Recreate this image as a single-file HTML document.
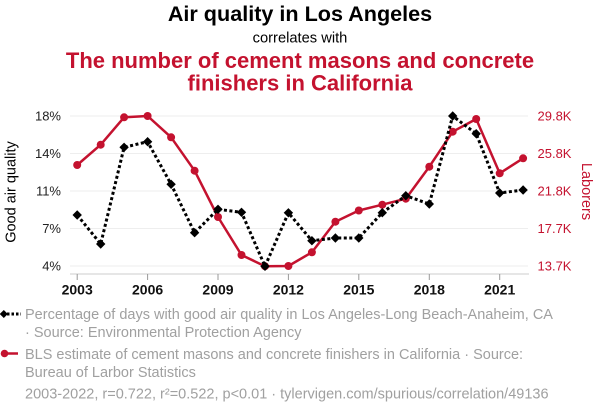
<!DOCTYPE html>
<html>
<head>
<meta charset="utf-8">
<style>
  html, body { margin: 0; padding: 0; background: #ffffff; }
  svg { display: block; }
  text { font-family: "Liberation Sans", Arial, sans-serif; }
</style>
</head>
<body>
<svg width="600" height="414" viewBox="0 0 600 414" xmlns="http://www.w3.org/2000/svg">
  <rect width="600" height="414" fill="#ffffff"/>

  <!-- Titles -->
  <text x="300" y="21" text-anchor="middle" font-size="21.6" font-weight="bold" fill="#000">Air quality in Los Angeles</text>
  <text x="300" y="42.5" text-anchor="middle" font-size="14.7" fill="#000">correlates with</text>
  <text x="300" y="68" text-anchor="middle" font-size="22" font-weight="bold" fill="#c4122f">The number of cement masons and concrete</text>
  <text x="300" y="90.5" text-anchor="middle" font-size="22" font-weight="bold" fill="#c4122f">finishers in California</text>

  <!-- Grid lines -->
  <g stroke="#eeeeee" stroke-width="1">
    <line x1="70" y1="116" x2="528" y2="116"/>
    <line x1="70" y1="153.5" x2="528" y2="153.5"/>
    <line x1="70" y1="191" x2="528" y2="191"/>
    <line x1="70" y1="228.5" x2="528" y2="228.5"/>
    <line x1="70" y1="266" x2="528" y2="266"/>
  </g>

  <!-- X axis -->
  <line x1="70" y1="274" x2="529" y2="274" stroke="#cccccc" stroke-width="1"/>
  <g stroke="#999999" stroke-width="1">
    <line x1="77.2" y1="274" x2="77.2" y2="280"/>
    <line x1="147.6" y1="274" x2="147.6" y2="280"/>
    <line x1="218" y1="274" x2="218" y2="280"/>
    <line x1="288.4" y1="274" x2="288.4" y2="280"/>
    <line x1="358.8" y1="274" x2="358.8" y2="280"/>
    <line x1="429.3" y1="274" x2="429.3" y2="280"/>
    <line x1="499.7" y1="274" x2="499.7" y2="280"/>
  </g>
  <g font-size="14" font-weight="bold" fill="#111" text-anchor="middle">
    <text x="77.2" y="294.5">2003</text>
    <text x="147.6" y="294.5">2006</text>
    <text x="218" y="294.5">2009</text>
    <text x="288.4" y="294.5">2012</text>
    <text x="358.8" y="294.5">2015</text>
    <text x="429.3" y="294.5">2018</text>
    <text x="499.7" y="294.5">2021</text>
  </g>

  <!-- Left axis labels -->
  <g font-size="13" fill="#222" text-anchor="end">
    <text x="61" y="120.5">18%</text>
    <text x="61" y="158">14%</text>
    <text x="61" y="195.5">11%</text>
    <text x="61" y="233">7%</text>
    <text x="61" y="270.5">4%</text>
  </g>
  <text transform="translate(15.5,192) rotate(-90)" text-anchor="middle" font-size="14.5" fill="#000">Good air quality</text>

  <!-- Right axis labels -->
  <g font-size="13" fill="#c4122f" text-anchor="start">
    <text x="537.5" y="120.5">29.8K</text>
    <text x="537.5" y="158">25.8K</text>
    <text x="537.5" y="195.5">21.8K</text>
    <text x="537.5" y="233">17.7K</text>
    <text x="537.5" y="270.5">13.7K</text>
  </g>
  <text transform="translate(582,191.5) rotate(90)" text-anchor="middle" font-size="14.5" fill="#c4122f">Laborers</text>

  <!-- Red series -->
  <polyline fill="none" stroke="#c4122f" stroke-width="2.5" stroke-linejoin="round"
    points="77.2,165 100.7,144.7 124.1,117.3 147.6,116 171.1,137.3 194.6,170.7 218,217 241.5,255 265,266.2 288.4,266 311.9,252.3 335.4,221.7 358.8,210.5 382.3,204.7 405.8,198.7 429.3,166.7 452.7,131.7 476.2,119 499.7,173.3 523.1,158.3"/>
  <g fill="#c4122f">
    <circle cx="77.2" cy="165" r="4"/>
    <circle cx="100.7" cy="144.7" r="4"/>
    <circle cx="124.1" cy="117.3" r="4"/>
    <circle cx="147.6" cy="116" r="4"/>
    <circle cx="171.1" cy="137.3" r="4"/>
    <circle cx="194.6" cy="170.7" r="4"/>
    <circle cx="218" cy="217" r="4"/>
    <circle cx="241.5" cy="255" r="4"/>
    <circle cx="265" cy="266.2" r="4"/>
    <circle cx="288.4" cy="266" r="4"/>
    <circle cx="311.9" cy="252.3" r="4"/>
    <circle cx="335.4" cy="221.7" r="4"/>
    <circle cx="358.8" cy="210.5" r="4"/>
    <circle cx="382.3" cy="204.7" r="4"/>
    <circle cx="405.8" cy="198.7" r="4"/>
    <circle cx="429.3" cy="166.7" r="4"/>
    <circle cx="452.7" cy="131.7" r="4"/>
    <circle cx="476.2" cy="119" r="4"/>
    <circle cx="499.7" cy="173.3" r="4"/>
    <circle cx="523.1" cy="158.3" r="4"/>
  </g>

  <!-- Black series -->
  <polyline fill="none" stroke="#000" stroke-width="3" stroke-dasharray="3,2.5" stroke-linejoin="round"
    points="77.2,215 100.7,244 124.1,147.3 147.6,141.7 171.1,184.3 194.6,232.7 218,209.3 241.5,212.3 265,266.3 288.4,212.8 311.9,240.7 335.4,238 358.8,238 382.3,212.7 405.8,195.7 429.3,204 452.7,116 476.2,133.7 499.7,193 523.1,190"/>
  <g fill="#000">
    <path d="M77.2,210.3 L81.9,215 L77.2,219.7 L72.5,215 Z"/>
    <path d="M100.7,239.3 L105.4,244 L100.7,248.7 L96,244 Z"/>
    <path d="M124.1,142.6 L128.8,147.3 L124.1,152 L119.4,147.3 Z"/>
    <path d="M147.6,137 L152.3,141.7 L147.6,146.4 L142.9,141.7 Z"/>
    <path d="M171.1,179.6 L175.8,184.3 L171.1,189 L166.4,184.3 Z"/>
    <path d="M194.6,228 L199.3,232.7 L194.6,237.4 L189.9,232.7 Z"/>
    <path d="M218,204.6 L222.7,209.3 L218,214 L213.3,209.3 Z"/>
    <path d="M241.5,207.6 L246.2,212.3 L241.5,217 L236.8,212.3 Z"/>
    <path d="M265,261.6 L269.7,266.3 L265,271 L260.3,266.3 Z"/>
    <path d="M288.4,208.1 L293.1,212.8 L288.4,217.5 L283.7,212.8 Z"/>
    <path d="M311.9,236 L316.6,240.7 L311.9,245.4 L307.2,240.7 Z"/>
    <path d="M335.4,233.3 L340.1,238 L335.4,242.7 L330.7,238 Z"/>
    <path d="M358.8,233.3 L363.5,238 L358.8,242.7 L354.1,238 Z"/>
    <path d="M382.3,208 L387,212.7 L382.3,217.4 L377.6,212.7 Z"/>
    <path d="M405.8,191 L410.5,195.7 L405.8,200.4 L401.1,195.7 Z"/>
    <path d="M429.3,199.3 L434,204 L429.3,208.7 L424.6,204 Z"/>
    <path d="M452.7,111.3 L457.4,116 L452.7,120.7 L448,116 Z"/>
    <path d="M476.2,129 L480.9,133.7 L476.2,138.4 L471.5,133.7 Z"/>
    <path d="M499.7,188.3 L504.4,193 L499.7,197.7 L495,193 Z"/>
    <path d="M523.1,185.3 L527.8,190 L523.1,194.7 L518.4,190 Z"/>
  </g>

  <!-- Legend -->
  <line x1="7" y1="314" x2="21" y2="314" stroke="#000" stroke-width="3" stroke-dasharray="2.5,2"/>
  <path d="M3.8,310 L7.8,314 L3.8,318 L-0.2,314 Z" fill="#000"/>
  <g font-size="14.5" fill="#a0a0a0">
    <text x="25" y="319">Percentage of days with good air quality in Los Angeles-Long Beach-Anaheim, CA</text>
    <text x="25" y="337">· Source: Environmental Protection Agency</text>
  </g>

  <line x1="4" y1="353.5" x2="18" y2="353.5" stroke="#c4122f" stroke-width="2.5"/>
  <circle cx="4.5" cy="353.5" r="3.8" fill="#c4122f"/>
  <g font-size="14.5" fill="#a0a0a0">
    <text x="25" y="359">BLS estimate of cement masons and concrete finishers in California · Source:</text>
    <text x="25" y="377">Bureau of Larbor Statistics</text>
    <text x="25" y="398.5">2003-2022, r=0.722, r²=0.522, p&lt;0.01 · tylervigen.com/spurious/correlation/49136</text>
  </g>
</svg>
</body>
</html>
